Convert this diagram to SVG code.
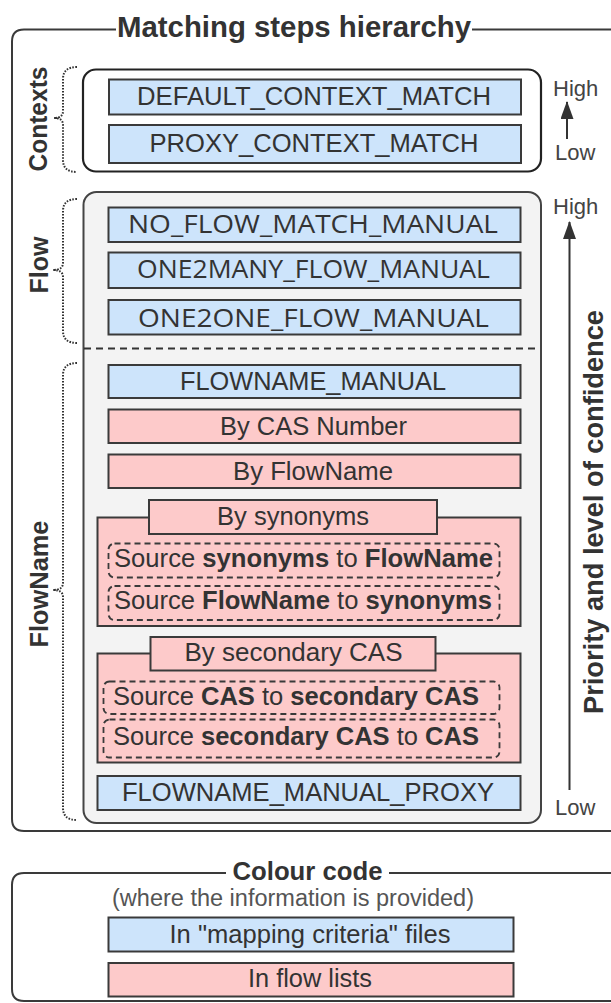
<svg xmlns="http://www.w3.org/2000/svg" width="611" height="1003" viewBox="0 0 611 1003">
<style>
text{font-family:"Liberation Sans",Arial,sans-serif;fill:#333}
.t{font-size:25px;text-anchor:middle}
.os{font-family:"Open Sans","Liberation Sans",sans-serif}
.b{font-weight:bold}
.lab{font-size:25px;font-weight:bold;text-anchor:middle}
.hl{font-size:22px;fill:#444}
.blue{fill:#cde4fb;stroke:#3a3a3a;stroke-width:2}
.pink{fill:#fdcaca;stroke:#3a3a3a;stroke-width:2}
.dash{fill:none;stroke:#3a3a3a;stroke-width:1.8;stroke-dasharray:6 4}
.frame{fill:none;stroke:#3a3a3a;stroke-width:2}
.brace{fill:none;stroke:#333;stroke-width:2;stroke-dasharray:1.6 1.4}
.arr{stroke:#333;stroke-width:2;fill:none}
</style>
<defs>
<marker id="ah" markerWidth="18" markerHeight="13" refX="17" refY="6.5" orient="auto" markerUnits="userSpaceOnUse" viewBox="0 0 18 13">
<path d="M0,0 L18,6.5 L0,13 Z" fill="#333"/>
</marker>
</defs>

<g id="frame-main">
<path class="frame" d="M116,29.5 H24 Q12,29.5 12,41.5 V819 Q12,831 24,831 H620 M472,29.5 H620"/>
<text x="294" y="37" font-size="29" class="b" text-anchor="middle" textLength="354" lengthAdjust="spacingAndGlyphs">Matching steps hierarchy</text>
</g>

<g id="frame-colour">
<path class="frame" d="M226,873 H24 Q12,873 12,885 V989 Q12,1001 24,1001 H620 M389,873 H620"/>
<text x="307.5" y="880" font-size="25" class="b" text-anchor="middle" textLength="150" lengthAdjust="spacingAndGlyphs">Colour code</text>
<text x="293" y="906" font-size="23.5" text-anchor="middle" style="fill:#555" textLength="362" lengthAdjust="spacingAndGlyphs">(where the information is provided)</text>
</g>

<g id="contexts-group">
<rect x="83" y="69.5" width="458" height="102" rx="13" fill="#fff" stroke="#222" stroke-width="2.2"/>
</g>
<g id="flow-group">
<rect x="83.5" y="192" width="457.5" height="631" rx="13" fill="#f3f3f3" stroke="#444" stroke-width="2"/>
<line x1="84" y1="348.5" x2="540" y2="348.5" stroke="#333" stroke-width="1.8" stroke-dasharray="7 5"/>
</g>

<g id="labels">
<text class="lab" transform="translate(47,119) rotate(-90)" textLength="105" lengthAdjust="spacingAndGlyphs">Contexts</text>
<text class="lab" transform="translate(48,265) rotate(-90)" textLength="57" lengthAdjust="spacingAndGlyphs">Flow</text>
<text class="lab" transform="translate(48,584) rotate(-90)" textLength="127" lengthAdjust="spacingAndGlyphs">FlowName</text>
<text class="b" font-size="27" text-anchor="middle" transform="translate(603,512) rotate(-90)" textLength="404" lengthAdjust="spacingAndGlyphs">Priority and level of confidence</text>
<text class="hl" x="553" y="96">High</text>
<text class="hl" x="555" y="160">Low</text>
<text class="hl" x="553" y="214">High</text>
<text class="hl" x="555" y="815">Low</text>
</g>

<g id="braces">
<path class="brace" d="M77,67 Q63,67 63,79 L63,111 Q63,118 54,118 Q63,118 63,125 L63,160 Q63,172 77,172"/>
<path class="brace" d="M77,199 Q63,199 63,211 L63,263 Q63,270 53,270 Q63,270 63,277 L63,331 Q63,343 77,343"/>
<path class="brace" d="M77,363 Q63,363 63,375 L63,583 Q63,590 53,590 Q63,590 63,597 L63,808 Q63,820 77,820"/>
</g>

<g id="connectors">
<line class="arr" x1="567" y1="139" x2="567" y2="102" marker-end="url(#ah)"/>
<line class="arr" x1="569.5" y1="790" x2="569.5" y2="222" marker-end="url(#ah)"/>
</g>

<g id="n-default-context">
<rect class="blue" x="109" y="79.5" width="412" height="35"/>
<text class="t" x="314" y="105" textLength="354" lengthAdjust="spacingAndGlyphs">DEFAULT_CONTEXT_MATCH</text>
</g>
<g id="n-proxy-context">
<rect class="blue" x="109" y="125" width="412" height="38"/>
<text class="t" x="314" y="152" textLength="329" lengthAdjust="spacingAndGlyphs">PROXY_CONTEXT_MATCH</text>
</g>

<g id="n-no-flow">
<rect class="blue" x="108.5" y="207.5" width="412" height="34.5"/>
<text class="t os" x="313" y="233" textLength="370" lengthAdjust="spacingAndGlyphs">NO_FLOW_MATCH_MANUAL</text>
</g>
<g id="n-one2many">
<rect class="blue" x="108.5" y="252.5" width="412" height="35.5"/>
<text class="t os" x="313.5" y="278" textLength="353" lengthAdjust="spacingAndGlyphs">ONE2MANY_FLOW_MANUAL</text>
</g>
<g id="n-one2one">
<rect class="blue" x="108.5" y="300" width="412" height="34.5"/>
<text class="t os" x="313.5" y="327" textLength="351" lengthAdjust="spacingAndGlyphs">ONE2ONE_FLOW_MANUAL</text>
</g>

<g id="n-flowname-manual">
<rect class="blue" x="108.5" y="365" width="412" height="33"/>
<text class="t" x="313" y="390" textLength="266" lengthAdjust="spacingAndGlyphs">FLOWNAME_MANUAL</text>
</g>
<g id="n-by-cas">
<rect class="pink" x="108.5" y="409.5" width="412" height="33.5"/>
<text class="t" x="313.5" y="434.5" textLength="187" lengthAdjust="spacingAndGlyphs">By CAS Number</text>
</g>
<g id="n-by-flowname">
<rect class="pink" x="108.5" y="454.5" width="412" height="33.5"/>
<text class="t" x="313" y="479.5" textLength="160" lengthAdjust="spacingAndGlyphs">By FlowName</text>
</g>

<g id="n-by-synonyms">
<rect class="pink" x="97.5" y="517.5" width="423" height="108.5"/>
<rect class="pink" x="149" y="500" width="288" height="34"/>
<text class="t" x="293" y="525" textLength="152" lengthAdjust="spacingAndGlyphs">By synonyms</text>
<rect class="dash" x="108.5" y="543.5" width="391" height="34" rx="6"/>
<text font-size="25.5" x="114" y="567" textLength="379" lengthAdjust="spacingAndGlyphs">Source <tspan class="b">synonyms</tspan> to <tspan class="b">FlowName</tspan></text>
<rect class="dash" x="108.5" y="586" width="391" height="34" rx="6"/>
<text font-size="25.5" x="114" y="608.5" textLength="378" lengthAdjust="spacingAndGlyphs">Source <tspan class="b">FlowName</tspan> to <tspan class="b">synonyms</tspan></text>
</g>

<g id="n-by-secondary-cas">
<rect class="pink" x="97.5" y="653.5" width="423" height="109"/>
<rect class="pink" x="150.5" y="637" width="285" height="33.5"/>
<text class="t" x="293.5" y="661" textLength="218" lengthAdjust="spacingAndGlyphs">By secondary CAS</text>
<rect class="dash" x="103.5" y="681.5" width="396" height="32.5" rx="6"/>
<text font-size="25.5" x="113" y="705" textLength="366" lengthAdjust="spacingAndGlyphs">Source <tspan class="b">CAS</tspan> to <tspan class="b">secondary CAS</tspan></text>
<rect class="dash" x="103.5" y="719.5" width="396" height="38" rx="6"/>
<text font-size="25.5" x="113" y="745" textLength="366" lengthAdjust="spacingAndGlyphs">Source <tspan class="b">secondary CAS</tspan> to <tspan class="b">CAS</tspan></text>
</g>

<g id="n-flowname-manual-proxy">
<rect class="blue" x="97.5" y="776" width="423" height="34"/>
<text class="t" x="308" y="801" textLength="372" lengthAdjust="spacingAndGlyphs">FLOWNAME_MANUAL_PROXY</text>
</g>

<g id="n-legend-blue">
<rect class="blue" x="108.5" y="917.5" width="405" height="34"/>
<text class="t" x="310" y="943" textLength="281" lengthAdjust="spacingAndGlyphs">In "mapping criteria" files</text>
</g>
<g id="n-legend-pink">
<rect class="pink" x="108.5" y="963" width="405" height="33.5"/>
<text class="t" x="310" y="987" textLength="124" lengthAdjust="spacingAndGlyphs">In flow lists</text>
</g>
</svg>
